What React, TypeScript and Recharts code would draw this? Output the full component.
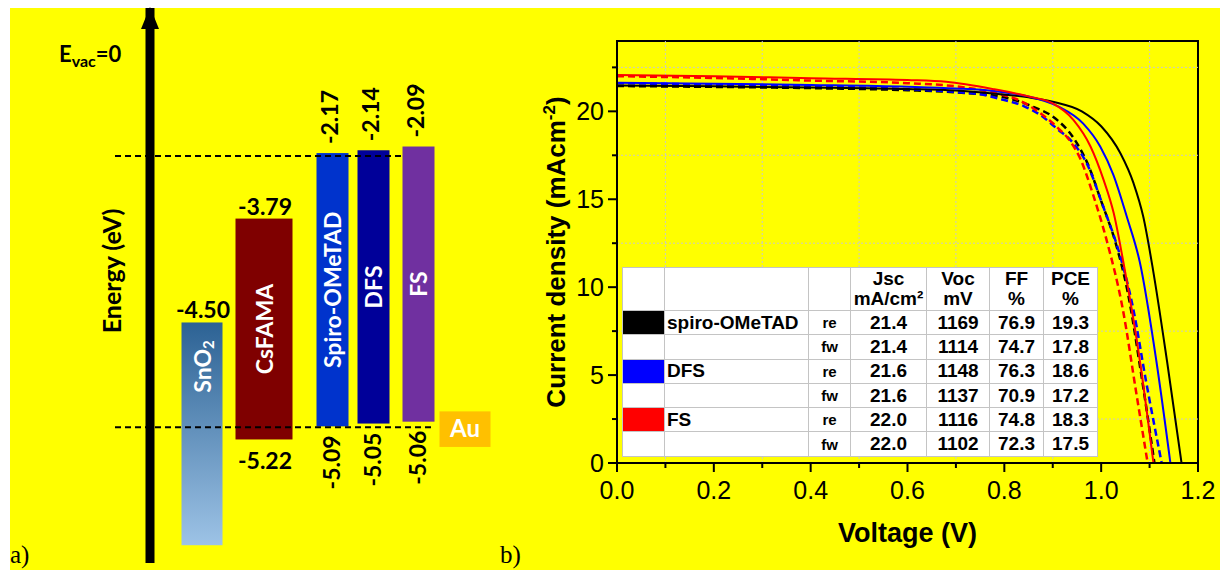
import React from 'react'
import {
  ComposedChart, Bar, XAxis, YAxis, ReferenceLine, ReferenceDot,
  LineChart, Line, ReferenceArea,
} from 'recharts'

// ---------- panel a: energy levels (eV) ----------
const layerNames = ['SnO2', 'CsFAMA', 'Spiro-OMeTAD', 'DFS', 'FS', 'Au']
const upperLevel = [-4.5, -3.79, -2.17, -2.14, -2.09, null]
const lowerLevel = [null, -5.22, -5.09, -5.05, -5.06, null]
// drawn extent of each box (the sketch is not to scale for SnO2 / CsFAMA)
const boxTop = [-3.98, -2.87, -2.17, -2.14, -2.1, -4.93]
const boxBottom = [-6.36, -5.23, -5.09, -5.06, -5.04, -5.31]
const guideLumo = -2.2
const guideAu = -5.1

// ---------- panel b: J-V curves (V, mA/cm2) ----------
const spiroReV = [0, 0.2, 0.4, 0.6, 0.7, 0.78, 0.85, 0.9, 0.96, 1.0, 1.04, 1.067, 1.087, 1.107, 1.136, 1.166]
const spiroReJ = [21.47, 21.42, 21.36, 21.27, 21.18, 21.0, 20.8, 20.55, 20.0, 19.15, 17.6, 15.9, 14.0, 11.0, 5.8, 0]
const spiroFwV = [0, 0.2, 0.4, 0.6, 0.7, 0.8, 0.86, 0.9, 0.945, 0.974, 1.0, 1.03, 1.055, 1.083, 1.11]
const spiroFwJ = [21.44, 21.39, 21.32, 21.2, 21.08, 20.8, 20.25, 19.7, 18.4, 16.9, 14.9, 12.5, 9.7, 5.0, 0]
const dfsReV = [0, 0.2, 0.4, 0.6, 0.7, 0.78, 0.85, 0.91, 0.963, 0.998, 1.025, 1.053, 1.08, 1.114, 1.143]
const dfsReJ = [21.62, 21.57, 21.5, 21.4, 21.3, 21.15, 20.85, 20.3, 19.3, 18.0, 16.4, 14.0, 11.4, 5.8, 0]
const dfsFwV = [0, 0.2, 0.4, 0.6, 0.7, 0.75, 0.792, 0.84, 0.874, 0.909, 0.942, 0.971, 1.004, 1.039, 1.066, 1.093, 1.125]
const dfsFwJ = [21.6, 21.52, 21.42, 21.26, 21.1, 20.97, 20.7, 20.3, 19.8, 19.0, 18.2, 17.0, 14.6, 11.8, 8.8, 4.6, 0]
const fsReV = [0, 0.2, 0.4, 0.6, 0.68, 0.78, 0.85, 0.9, 0.943, 0.978, 1.005, 1.026, 1.046, 1.08, 1.108]
const fsReJ = [22.07, 22.0, 21.88, 21.78, 21.68, 21.25, 20.85, 20.45, 19.5, 18.0, 16.1, 14.2, 11.4, 5.8, 0]
const fsFwV = [0, 0.2, 0.4, 0.6, 0.7, 0.78, 0.833, 0.874, 0.909, 0.936, 0.957, 0.984, 1.011, 1.045, 1.073, 1.096]
const fsFwJ = [22.0, 21.9, 21.75, 21.6, 21.42, 21.05, 20.6, 19.9, 19.1, 18.3, 17.3, 15.2, 12.7, 8.7, 3.9, 0]

// table values
const devices = ['spiro-OMeTAD', 'DFS', 'FS']
const scans = ['re', 'fw']
const jscVals = [21.4, 21.4, 21.6, 21.6, 22.0, 22.0]
const vocVals = [1169, 1114, 1148, 1137, 1116, 1102]
const ffVals = [76.9, 74.7, 76.3, 70.9, 74.8, 72.3]
const pceVals = [19.3, 17.8, 18.6, 17.2, 18.3, 17.5]

const xTicks = [0, 0.1, 0.2, 0.3, 0.4, 0.5, 0.6, 0.7, 0.8, 0.9, 1.0, 1.1, 1.2]
const yTicks = [0, 2.5, 5, 7.5, 10, 12.5, 15, 17.5, 20, 22.5]
const gridV = [0.1, 0.3, 0.5, 0.7, 0.9, 1.1]
const gridJ = [2.5, 7.5, 12.5, 17.5, 22.5]

// layout of panel a (columns on a 0..40 slot axis)
const COLS = [10.25, 16.45, 23.3, 27.4, 31.9, 36.55]
const ARROW_COL = 5
const BOX_W = [41, 57, 32, 32, 32, 51]
const BOX_FILL = ['url(#sno2Grad)', '#7f0000', '#0033cc', '#000099', '#7030a0', '#ffc000']
const DEVICE_COLORS = ['#000000', '#0000ff', '#ff0000']

const LATO = 'Lato, "Open sans", sans-serif'
const ARIAL = '"Liberation Sans", Arial, sans-serif'

const layers = layerNames.map((name, i) => ({
  name,
  idx: i,
  col: COLS[i],
  span: [boxBottom[i], boxTop[i]],
  upper: upperLevel[i],
  lower: lowerLevel[i],
}))

const pts = (v: number[], j: number[]) => v.map((x, i) => ({ v: x, j: j[i] }))

function LayerBox(props: any) {
  const { x, y, width, height, payload } = props
  const i = payload.idx
  const cx = x + width / 2
  const top = Math.min(y, y + height)
  const h = Math.abs(height)
  const bottom = top + h
  const w = BOX_W[i]
  const rotated = i >= 2 && i <= 4
  const txt = { fontFamily: LATO, fontWeight: 700, fontSize: 23 }
  const nameY = i === 0 ? top + 44 : top + h / 2
  return (
    <g>
      <defs>
        <linearGradient id="sno2Grad" x1="0" y1="0" x2="0" y2="1">
          <stop offset="0%" stopColor="#2c6294" />
          <stop offset="100%" stopColor="#9dc3e6" />
        </linearGradient>
      </defs>
      <rect x={cx - w / 2} y={top} width={w} height={h} fill={BOX_FILL[i]} />
      {payload.name === 'Au' ? (
        <text x={cx} y={top + h / 2 + 8} textAnchor="middle" fill="#fff" {...txt} fontSize={24}>Au</text>
      ) : (
        <text x={cx} y={nameY} transform={`rotate(-90 ${cx} ${nameY})`} textAnchor="middle"
          dominantBaseline="central" fill="#fff" {...txt}>
          {payload.name === 'SnO2' ? <>SnO<tspan fontSize={15} dy={6}>2</tspan></> : payload.name}
        </text>
      )}
      {payload.upper != null && (rotated ? (
        <text x={cx - 3} y={top - 9} transform={`rotate(-90 ${cx - 3} ${top - 9})`} textAnchor="start"
          dominantBaseline="central" fill="#000" {...txt}>{payload.upper.toFixed(2)}</text>
      ) : (
        <text x={cx + 1} y={top - 4} textAnchor="middle" fill="#000" {...txt}>{payload.upper.toFixed(2)}</text>
      ))}
      {payload.lower != null && (rotated ? (
        <text x={cx - 1} y={bottom + 9} transform={`rotate(-90 ${cx - 1} ${bottom + 9})`} textAnchor="end"
          dominantBaseline="central" fill="#000" {...txt}>{payload.lower.toFixed(2)}</text>
      ) : (
        <text x={cx + 1} y={bottom + 30} textAnchor="middle" fill="#000" {...txt}>{payload.lower.toFixed(2)}</text>
      ))}
    </g>
  )
}

const ArrowHead = (props: any) => {
  const { cx, cy } = props
  return <polygon points={`${cx},${cy - 1} ${cx - 9},${cy + 21} ${cx + 9},${cy + 21}`} fill="#000" />
}

const XTick = (props: any) => {
  const { x, y, payload } = props
  const v = payload.value
  const major = Math.round(v * 10) % 2 === 0
  return (
    <g>
      <line x1={x} x2={x} y1={y} y2={y + (major ? 9 : 5)} stroke="#000" strokeWidth={2} />
      {major && (
        <text x={x} y={y + 36} textAnchor="middle" fontFamily={ARIAL} fontSize={25} fill="#000">
          {v.toFixed(1)}
        </text>
      )}
    </g>
  )
}

const YTick = (props: any) => {
  const { x, y, payload } = props
  const v = payload.value
  const major = v % 5 === 0
  return (
    <g>
      <line x1={x} x2={x - (major ? 9 : 5)} y1={y} y2={y} stroke="#000" strokeWidth={2} />
      {major && (
        <text x={x - 13} y={y + 9} textAnchor="end" fontFamily={ARIAL} fontSize={25} fill="#000">{v}</text>
      )}
    </g>
  )
}

const YTitle = (props: any) => {
  const vb = props.viewBox || {}
  const tx = vb.x + 8
  const ty = vb.y + vb.height / 2
  return (
    <text x={tx} y={ty} transform={`rotate(-90 ${tx} ${ty})`} textAnchor="middle"
      fontFamily={ARIAL} fontWeight={700} fontSize={26} fill="#000">
      Current density (mAcm<tspan dy={-10} fontSize={17}>-2</tspan><tspan dy={10}>)</tspan>
    </text>
  )
}

const XTitle = (props: any) => {
  const vb = props.viewBox || {}
  return (
    <text x={vb.x + vb.width / 2} y={vb.y + 79} textAnchor="middle"
      fontFamily={ARIAL} fontWeight={700} fontSize={27} fill="#000">Voltage (V)</text>
  )
}

const cell: React.CSSProperties = { border: '1px solid #c4c4c4', padding: 0, textAlign: 'center' }

function ResultsTable() {
  const rows = jscVals.map((_, k) => ({
    dev: Math.floor(k / 2),
    scan: scans[k % 2],
    k,
  }))
  return (
    <table style={{
      position: 'absolute', left: 622, top: 267, width: 475, borderCollapse: 'collapse',
      tableLayout: 'fixed', background: '#fff', fontFamily: ARIAL, fontWeight: 700, fontSize: 19,
      border: '1.5px solid #6a6a6a', color: '#000',
    }}>
      <colgroup>
        {[42, 144, 42, 76, 63, 54, 54].map((w, i) => <col key={i} style={{ width: w }} />)}
      </colgroup>
      <tbody>
        <tr style={{ height: 43 }}>
          <td style={cell} /><td style={cell} /><td style={cell} />
          <td style={{ ...cell, lineHeight: '20px' }}>Jsc<br />mA/cm²</td>
          <td style={{ ...cell, lineHeight: '20px' }}>Voc<br />mV</td>
          <td style={{ ...cell, lineHeight: '20px' }}>FF<br />%</td>
          <td style={{ ...cell, lineHeight: '20px' }}>PCE<br />%</td>
        </tr>
        {rows.map((r) => (
          <tr key={r.k} style={{ height: 24.3 }}>
            <td style={{ ...cell, background: r.scan === 're' ? DEVICE_COLORS[r.dev] : '#fff' }} />
            <td style={{ ...cell, textAlign: 'left', paddingLeft: 2 }}>{r.scan === 're' ? devices[r.dev] : ''}</td>
            <td style={{ ...cell, fontSize: 15 }}>{r.scan}</td>
            <td style={cell}>{jscVals[r.k].toFixed(1)}</td>
            <td style={cell}>{vocVals[r.k]}</td>
            <td style={cell}>{ffVals[r.k].toFixed(1)}</td>
            <td style={cell}>{pceVals[r.k].toFixed(1)}</td>
          </tr>
        ))}
      </tbody>
    </table>
  )
}

export default function App() {
  const curves = [
    { key: 'spiroFw', v: spiroFwV, j: spiroFwJ, color: DEVICE_COLORS[0], dash: true },
    { key: 'dfsFw', v: dfsFwV, j: dfsFwJ, color: DEVICE_COLORS[1], dash: true },
    { key: 'fsFw', v: fsFwV, j: fsFwJ, color: DEVICE_COLORS[2], dash: true },
    { key: 'spiroRe', v: spiroReV, j: spiroReJ, color: DEVICE_COLORS[0], dash: false },
    { key: 'dfsRe', v: dfsReV, j: dfsReJ, color: DEVICE_COLORS[1], dash: false },
    { key: 'fsRe', v: fsReV, j: fsReJ, color: DEVICE_COLORS[2], dash: false },
  ]
  return (
    <div style={{ position: 'fixed', left: 0, top: 0, width: 1220, height: 570, background: '#fff', overflow: 'hidden' }}>
      <div style={{ position: 'absolute', left: 10, top: 8, right: 0, bottom: 0, background: '#ffff00' }} />

      {/* panel a */}
      <div style={{ position: 'absolute', left: 0, top: 0 }}>
        <ComposedChart width={520} height={570} data={layers} margin={{ top: 8, right: 20, bottom: 7, left: 100 }}>
          <XAxis type="number" dataKey="col" domain={[0, 40]} hide allowDataOverflow />
          <YAxis type="number" domain={[-6.55, -0.62]} hide allowDataOverflow />
          <ReferenceLine segment={[{ x: 1.5, y: guideLumo }, { x: 30.3, y: guideLumo }]}
            stroke="#000" strokeWidth={2} strokeDasharray="6 4" />
          <ReferenceLine segment={[{ x: 1.5, y: guideAu }, { x: 33.3, y: guideAu }]}
            stroke="#000" strokeWidth={2} strokeDasharray="6 4" />
          <ReferenceLine x={ARROW_COL} stroke="#000" strokeWidth={9} />
          <ReferenceDot x={ARROW_COL} y={-0.62} r={1} shape={ArrowHead} ifOverflow="visible" />
          <Bar dataKey="span" barSize={30} shape={LayerBox} isAnimationActive={false} />
        </ComposedChart>
      </div>

      <div style={{ position: 'absolute', left: 111, top: 271, transform: 'translate(-50%, -50%) rotate(-90deg)',
        fontFamily: LATO, fontWeight: 700, fontSize: 25, whiteSpace: 'nowrap' }}>Energy (eV)</div>
      <div style={{ position: 'absolute', left: 59, top: 41, fontFamily: LATO, fontWeight: 700, fontSize: 22,
        lineHeight: '26px', whiteSpace: 'nowrap' }}>
        E<span style={{ fontSize: 16, verticalAlign: -5 }}>vac</span>=0
      </div>
      <div style={{ position: 'absolute', left: 10, top: 542, fontFamily: '"Liberation Serif", serif', fontSize: 25, lineHeight: 1 }}>a)</div>
      <div style={{ position: 'absolute', left: 500, top: 542, fontFamily: '"Liberation Serif", serif', fontSize: 25, lineHeight: 1 }}>b)</div>

      {/* panel b */}
      <div style={{ position: 'absolute', left: 500, top: 0 }}>
        <LineChart width={720} height={570} margin={{ top: 41, right: 22, bottom: 17, left: 57 }}>
          <XAxis type="number" dataKey="v" domain={[0, 1.2]} ticks={xTicks} interval={0} allowDataOverflow
            height={90} tickSize={0} tickMargin={0} tick={XTick} tickLine={false}
            axisLine={{ stroke: '#000', strokeWidth: 2 }} label={{ content: XTitle }} />
          <YAxis type="number" domain={[0, 24]} ticks={yTicks} interval={0} allowDataOverflow
            width={60} tickSize={0} tickMargin={0} tick={YTick} tickLine={false}
            axisLine={{ stroke: '#000', strokeWidth: 2 }} label={{ content: YTitle }} />
          {gridV.map((g) => (
            <ReferenceLine key={`gv${g}`} x={g} stroke="#c8c8c8" strokeWidth={1} strokeDasharray="2 2" />
          ))}
          {gridJ.map((g) => (
            <ReferenceLine key={`gj${g}`} y={g} stroke="#c8c8c8" strokeWidth={1} strokeDasharray="2 2" />
          ))}
          {curves.map((c) => (
            <Line key={c.key} data={pts(c.v, c.j)} dataKey="j" type="monotone" stroke={c.color}
              strokeWidth={c.dash ? 2.5 : 2} strokeDasharray={c.dash ? '7 4' : undefined}
              dot={false} activeDot={false} isAnimationActive={false} />
          ))}
          <ReferenceArea x1={0} x2={1.2} y1={0} y2={24} fill="none" fillOpacity={0} stroke="#000" strokeWidth={2} />
        </LineChart>
      </div>

      <ResultsTable />
    </div>
  )
}
